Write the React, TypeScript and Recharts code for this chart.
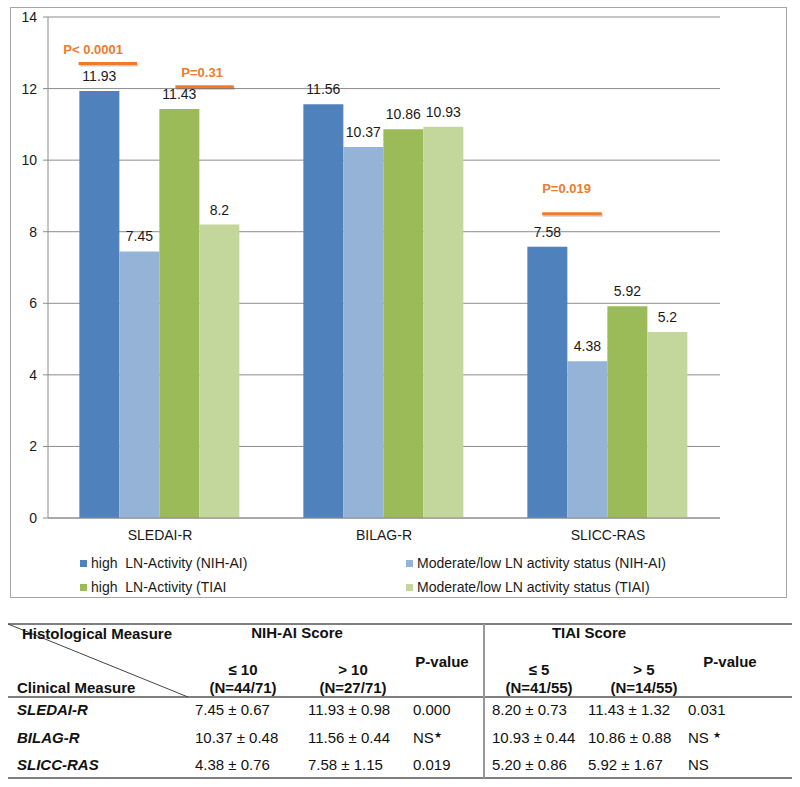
import React from 'react';
import { BarChart, Bar, XAxis, YAxis, CartesianGrid, Legend, LabelList } from 'recharts';

const categories = ['SLEDAI-R', 'BILAG-R', 'SLICC-RAS'];
const highNih = [11.93, 11.56, 7.58];
const lowNih = [7.45, 10.37, 4.38];
const highTiai = [11.43, 10.86, 5.92];
const lowTiai = [8.2, 10.93, 5.2];
const yTicks = [0, 2, 4, 6, 8, 10, 12, 14];

const seriesNames = [
  'high  LN-Activity (NIH-AI)',
  'Moderate/low LN activity status (NIH-AI)',
  'high  LN-Activity (TIAI',
  'Moderate/low LN activity status (TIAI)',
];
const seriesColors = ['#4F81BD', '#95B3D7', '#9BBB59', '#C3D69B'];

// p-value brackets: anchored on a bar, x in bar widths from its left edge, y in data units
const pLabels = ['P< 0.0001', 'P=0.31', 'P=0.019'];
const pSeries = ['highNih', 'highTiai', 'highNih'];
const pCategory = [0, 0, 2];
const pLineFrom = [-0.02, 0.4, 0.37];
const pLineTo = [1.44, 1.86, 1.86];
const pTextFrom = [-0.4, 0.55, 0.37];
const pLineAt = [12.7, 12.05, 8.5];
const pTextAt = [13.08, 12.44, 9.22];

// table below the chart
const rowNames = ['SLEDAI-R', 'BILAG-R', 'SLICC-RAS'];
const nihLow = ['7.45 ± 0.67', '10.37 ± 0.48', '4.38 ± 0.76'];
const nihHigh = ['11.93 ± 0.98', '11.56 ± 0.44', '7.58 ± 1.15'];
const nihP = ['0.000', 'NS*', '0.019'];
const tiaiLow = ['8.20 ± 0.73', '10.93 ± 0.44', '5.20 ± 0.86'];
const tiaiHigh = ['11.43 ± 1.32', '10.86 ± 0.88', '5.92 ± 1.67'];
const tiaiP = ['0.031', 'NS *', 'NS'];

const data = categories.map((name, i) => ({
  name,
  highNih: highNih[i],
  lowNih: lowNih[i],
  highTiai: highTiai[i],
  lowTiai: lowTiai[i],
}));
const keys = ['highNih', 'lowNih', 'highTiai', 'lowTiai'];

const FONT = '"Liberation Sans", Arial, sans-serif';
const ORANGE = '#EF7A2C';

const annotationFor = (key: string) => (props: any) => {
  const vb = props.viewBox && props.viewBox.width != null ? props.viewBox : props;
  const { x, y, width, height } = vb;
  const index = props.index;
  const value = (data as any)[index]?.[key];
  const marks: any[] = [];
  pLabels.forEach((label, i) => {
    if (pSeries[i] !== key || pCategory[i] !== index || !value) return;
    const base = y + height;
    const perUnit = height / value;
    const ly = base - pLineAt[i] * perUnit;
    const ty = base - pTextAt[i] * perUnit;
    const x1 = x + pLineFrom[i] * width;
    const x2 = x + pLineTo[i] * width;
    marks.push(
      <g key={label}>
        <line x1={x1 + 1} y1={ly + 1.5} x2={x2 + 1} y2={ly + 1.5} stroke="rgba(0,0,0,0.2)" strokeWidth={3} />
        <line x1={x1} y1={ly} x2={x2} y2={ly} stroke={ORANGE} strokeWidth={3} />
        <text x={x + pTextFrom[i] * width} y={ty} dy="0.35em" fill={ORANGE} fontSize={13} fontWeight={700} fontFamily={FONT}>
          {label}
        </text>
      </g>
    );
  });
  return marks.length ? <g>{marks}</g> : null;
};

const renderLegend = () => (
  <div style={{ position: 'relative', width: 777, height: 50, fontSize: 14, fontFamily: FONT, color: '#1a1a1a' }}>
    {seriesNames.map((n, i) => {
      const left = i % 2 === 0 ? 70 : 396;
      const top = 3 + Math.floor(i / 2) * 24;
      return (
        <div key={n} style={{ position: 'absolute', left, top, height: 24, display: 'flex', alignItems: 'center', whiteSpace: 'pre' }}>
          <span style={{ width: 7, height: 7, background: seriesColors[i], marginRight: 4, display: 'inline-block' }} />
          <span>{n}</span>
        </div>
      );
    })}
  </div>
);

const cell = (text: string, left: number, cy: number, opts: any = {}) => (
  <div
    style={{
      position: 'absolute', left, top: cy - 9, height: 18, lineHeight: '18px',
      fontSize: 15, whiteSpace: 'pre', ...opts,
    }}
  >
    {text.includes('*') ? (
      <>
        {text.replace('*', '')}
        <span style={{ fontSize: 9, verticalAlign: 'top', lineHeight: '12px' }}>★</span>
      </>
    ) : text}
  </div>
);

const centered = (text: string, cx: number, cy: number) => (
  <div
    style={{
      position: 'absolute', left: cx - 60, width: 120, top: cy - 9, height: 18, lineHeight: '18px',
      textAlign: 'center', fontSize: 15, fontWeight: 700, whiteSpace: 'pre',
    }}
  >
    {text}
  </div>
);

const DataTable = () => {
  const rowY = [710, 737.5, 765];
  const colX = [195, 308, 413, 492, 588, 688];
  const cols = [nihLow, nihHigh, nihP, tiaiLow, tiaiHigh, tiaiP];
  return (
    <div style={{ position: 'absolute', left: 0, top: 0, width: 800, height: 787, fontFamily: FONT, color: '#111' }}>
      <svg width={800} height={787} style={{ position: 'absolute', left: 0, top: 0 }}>
        <line x1={8} y1={624} x2={792} y2={624} stroke="#555" strokeWidth={1.3} />
        <line x1={8} y1={697} x2={792} y2={697} stroke="#555" strokeWidth={1.3} />
        <line x1={8} y1={778} x2={792} y2={778} stroke="#555" strokeWidth={1.3} />
        <line x1={484} y1={624} x2={484} y2={778} stroke="#999" strokeWidth={2} />
        <line x1={8} y1={624} x2={188} y2={697} stroke="#444" strokeWidth={1} />
      </svg>
      {cell('Histological Measure', 22, 634, { fontWeight: 700 })}
      {cell('Clinical Measure', 17, 688, { fontWeight: 700 })}
      {centered('NIH-AI Score', 297, 633)}
      {centered('TIAI Score', 589, 633)}
      {centered('≤ 10', 243, 670)}
      {centered('(N=44/71)', 243, 688)}
      {centered('> 10', 353, 670)}
      {centered('(N=27/71)', 353, 688)}
      {centered('P-value', 442, 662)}
      {centered('≤ 5', 539, 670)}
      {centered('(N=41/55)', 539, 688)}
      {centered('> 5', 644, 670)}
      {centered('(N=14/55)', 644, 688)}
      {centered('P-value', 730, 662)}
      {rowNames.map((r, i) => (
        <React.Fragment key={r}>
          {cell(r, 17, rowY[i], { fontWeight: 700, fontStyle: 'italic' })}
          {cols.map((c, j) => <React.Fragment key={j}>{cell(c[i], colX[j], rowY[i])}</React.Fragment>)}
        </React.Fragment>
      ))}
    </div>
  );
};

export default function App() {
  return (
    <div style={{ position: 'absolute', left: 0, top: 0, width: 800, height: 787, background: '#fff' }}>
      <div style={{ position: 'absolute', left: 10, top: 7, width: 775, height: 589, border: '1px solid #a6a6a6' }} />
      <div style={{ position: 'absolute', left: 10, top: 7 }}>
        <BarChart
          width={777}
          height={591}
          data={data}
          margin={{ top: 10, right: 67, left: 8, bottom: 0 }}
          barCategoryGap="14%"
          barGap={0}
          style={{ fontFamily: FONT }}
        >
          <CartesianGrid vertical={false} stroke="#8c8c8c" />
          <XAxis
            dataKey="name"
            height={30}
            tickLine={false}
            tickSize={0}
            tickMargin={12}
            axisLine={{ stroke: '#8c8c8c' }}
            tick={{ fill: '#1a1a1a', fontSize: 14 }}
          />
          <YAxis
            domain={[0, 14]}
            ticks={yTicks}
            interval={0}
            width={30}
            tickSize={5}
            tickMargin={6}
            axisLine={{ stroke: '#8c8c8c' }}
            tickLine={{ stroke: '#8c8c8c' }}
            tick={{ fill: '#1a1a1a', fontSize: 14 }}
          />
          <Legend
            verticalAlign="bottom"
            content={renderLegend}
            wrapperStyle={{ left: 0, top: 541, bottom: 'auto', width: 777, height: 50 }}
          />
          {keys.map((k, i) => (
            <Bar key={k} dataKey={k} name={seriesNames[i]} fill={seriesColors[i]} isAnimationActive={false}>
              <LabelList dataKey={k} position="top" offset={10} fill="#1a1a1a" fontSize={14} />
              <LabelList dataKey={k} content={annotationFor(k)} />
            </Bar>
          ))}
        </BarChart>
      </div>
      <DataTable />
    </div>
  );
}
